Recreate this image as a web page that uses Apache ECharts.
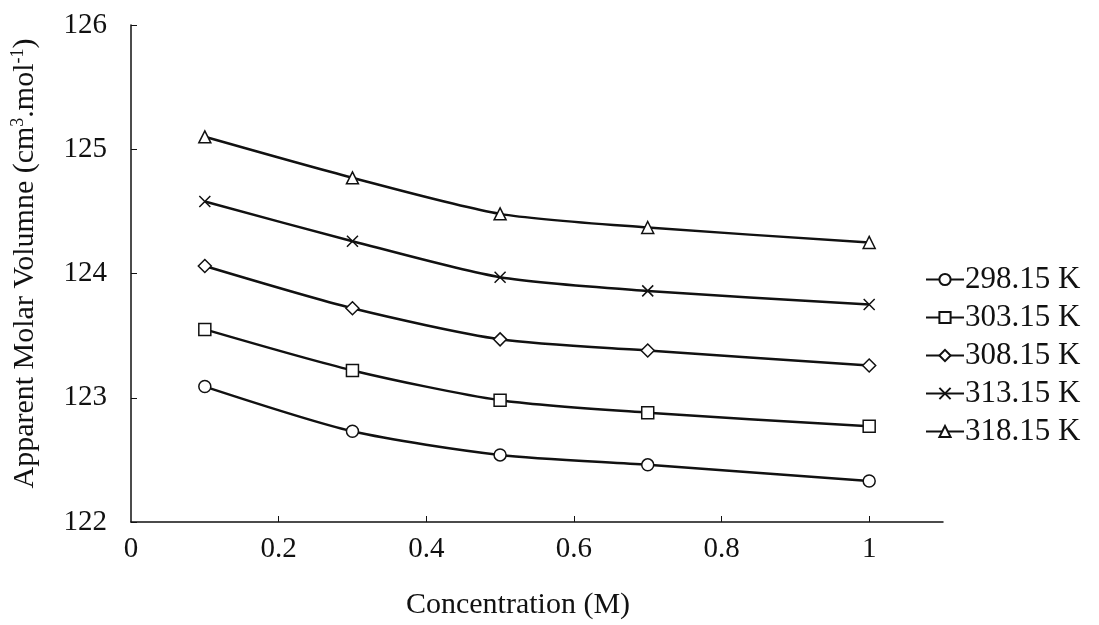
<!DOCTYPE html>
<html>
<head>
<meta charset="utf-8">
<script src="https://cdn.jsdelivr.net/npm/echarts@6/dist/echarts.min.js"></script>
<style>html,body{margin:0;padding:0;background:#fff;}#chart{width:1099px;height:625px;}</style>
</head>
<body>
<div id="chart"></div>
<script>
const concentrations = [0.1, 0.3, 0.5, 0.7, 1.0];
const seriesNames = ['298.15 K', '303.15 K', '308.15 K', '313.15 K', '318.15 K'];
const v298 = [123.09, 122.73, 122.54, 122.46, 122.33];
const v303 = [123.55, 123.22, 122.98, 122.88, 122.77];
const v308 = [124.06, 123.72, 123.47, 123.38, 123.26];
const v313 = [124.58, 124.26, 123.97, 123.86, 123.75];
const v318 = [125.10, 124.77, 124.48, 124.37, 124.25];
const xTickLabels = [0, 0.2, 0.4, 0.6, 0.8, 1];
const yTickLabels = [122, 123, 124, 125, 126];

const allValues = [v298, v303, v308, v313, v318];
const symbols = ['circle', 'rect', 'diamond', 'path://M0,0L10,10M10,0L0,10', 'triangle'];
const symbolSizes = [12, 12, 13, 11, 12];
const font = 'Liberation Serif';

const chart = echarts.init(document.getElementById('chart'));
chart.setOption({
  backgroundColor: '#fff',
  animation: false,
  grid: { left: 131, right: 156, top: 25, bottom: 102 },
  legend: {
    orient: 'vertical',
    left: 920,
    top: 259,
    itemWidth: 38,
    itemHeight: 14,
    itemGap: 7,
    data: seriesNames,
    textStyle: { fontFamily: font, fontSize: 31, lineHeight: 31, color: '#111', padding: [0, 0, 0, -4] }
  },
  xAxis: {
    type: 'value',
    min: 0, max: 1.1, interval: 0.2,
    name: 'Concentration (M)',
    nameLocation: 'middle',
    nameGap: 68,
    nameTextStyle: { fontFamily: font, fontSize: 30, color: '#111', padding: [0, 38, 0, 0] },
    axisLine: { lineStyle: { color: '#111', width: 1.5 } },
    axisTick: { inside: true, length: 6, lineStyle: { color: '#111' }, customValues: [0.2, 0.4, 0.6, 0.8, 1] },
    axisLabel: { customValues: xTickLabels, fontFamily: font, fontSize: 29, color: '#111', margin: 13,
      formatter: v => String(+v.toFixed(1)) },
    splitLine: { show: false }
  },
  yAxis: {
    type: 'value',
    min: 122, max: 126, interval: 1,
    name: '{n|Apparent Molar Volumne (cm}{s|3}{n|.mol}{s|-1}{n|)}',
    nameLocation: 'middle',
    nameGap: 90,
    nameTextStyle: {
      padding: [0, 0, 0, 20],
      rich: {
        n: { fontFamily: font, fontSize: 30, color: '#111' },
        s: { fontFamily: font, fontSize: 18, color: '#111', verticalAlign: 'top', padding: [0, 0, 14, 0] }
      }
    },
    axisLine: { show: true, lineStyle: { color: '#111', width: 1.5 } },
    axisTick: { show: true, inside: true, length: 6, lineStyle: { color: '#111' } },
    axisLabel: { customValues: yTickLabels, fontFamily: font, fontSize: 29, color: '#111', margin: 24 },
    splitLine: { show: false }
  },
  series: seriesNames.map((name, i) => ({
    name: name,
    type: 'line',
    smooth: 0.25,
    data: concentrations.map((c, j) => [c, allValues[i][j]]),
    symbol: symbols[i],
    symbolSize: symbolSizes[i],
    showAllSymbol: true,
    lineStyle: { color: '#111', width: 2.5 },
    itemStyle: { color: '#fff', borderColor: '#111', borderWidth: 1.5 }
  }))
});
</script>
</body>
</html>
